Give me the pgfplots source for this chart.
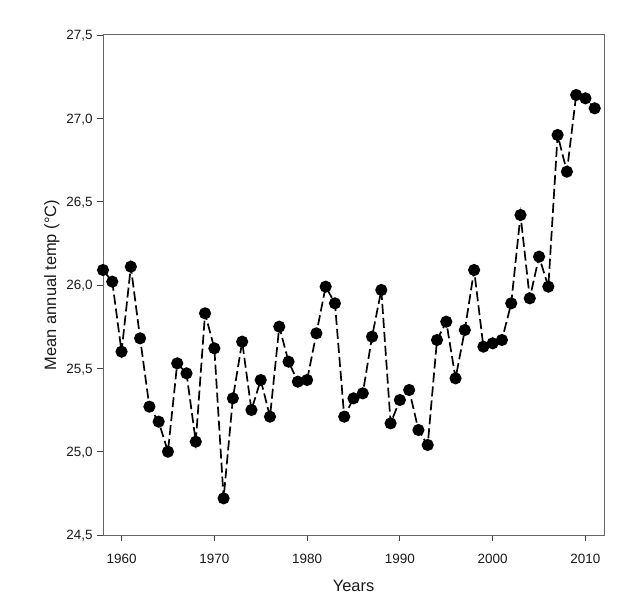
\documentclass[border=0pt]{standalone}
\usepackage{pgfplots}
\pgfplotsset{compat=1.18}
\usepackage{fontspec}
\setmainfont{Liberation Sans}
\begin{document}
\begin{tikzpicture}
\begin{axis}[
  scale only axis,
  width=501bp, height=500bp,
  xmin=1958, xmax=2012,
  ymin=24.5, ymax=27.5,
  xtick={1960,1970,1980,1990,2000,2010},
  ytick={24.5,25,25.5,26,26.5,27,27.5},
  xticklabels={1960,1970,1980,1990,2000,2010},
  yticklabels={24{,}5,25{,}0,25{,}5,26{,}0,26{,}5,27{,}0,27{,}5},
  tick align=outside,
  xtick pos=bottom, ytick pos=left,
  major tick length=6bp,
  tick style={black!75, line width=0.9bp},
  axis line style={black!60, line width=1bp},
  every tick label/.append style={font=\fontsize{13.5}{15}\selectfont, text=black!90},
  every x tick label/.append style={anchor=base, yshift=-22bp},
  every y tick label/.append style={anchor=base east, xshift=-1bp, yshift=-4.8bp},
  xlabel={Years},
  ylabel={Mean annual temp (°C)},
  label style={font=\fontsize{16.5}{19}\selectfont, text=black!90},
  xlabel style={at={(axis description cs:0.5,-0.1134)}, anchor=base},
  ylabel style={at={(axis description cs:-0.0938,0.5)}, anchor=base, rotate=0},
  clip=false,
]
\addplot[black, line width=1.7bp, dash pattern=on 10bp off 4bp,
  mark=*, mark size=5.2bp, mark options={solid, fill=black}]
coordinates {
(1958,26.09) (1959,26.02) (1960,25.60) (1961,26.11) (1962,25.68)
(1963,25.27) (1964,25.18) (1965,25.00) (1966,25.53) (1967,25.47)
(1968,25.06) (1969,25.83) (1970,25.62) (1971,24.72) (1972,25.32)
(1973,25.66) (1974,25.25) (1975,25.43) (1976,25.21) (1977,25.75)
(1978,25.54) (1979,25.42) (1980,25.43) (1981,25.71) (1982,25.99)
(1983,25.89) (1984,25.21) (1985,25.32) (1986,25.35) (1987,25.69)
(1988,25.97) (1989,25.17) (1990,25.31) (1991,25.37) (1992,25.13)
(1993,25.04) (1994,25.67) (1995,25.78) (1996,25.44) (1997,25.73)
(1998,26.09) (1999,25.63) (2000,25.65) (2001,25.67) (2002,25.89)
(2003,26.42) (2004,25.92) (2005,26.17) (2006,25.99) (2007,26.90)
(2008,26.68) (2009,27.14) (2010,27.12) (2011,27.06)
};
\end{axis}
\pgfresetboundingbox
\path ([shift={(-103bp,-60bp)}]current axis.south west) rectangle ([shift={(28bp,35bp)}]current axis.north east);
\end{tikzpicture}
\end{document}
